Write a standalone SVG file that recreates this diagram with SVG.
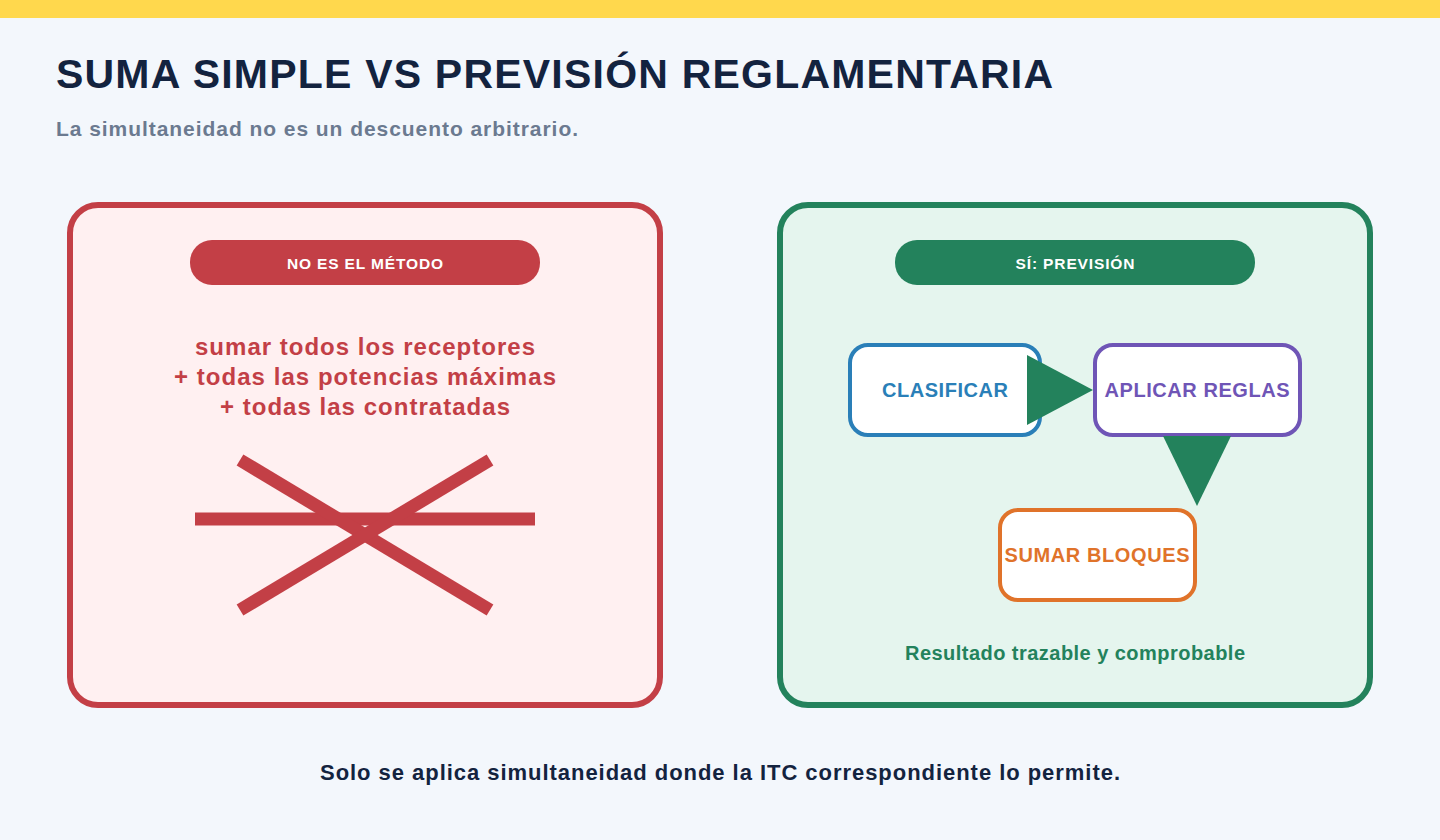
<svg xmlns="http://www.w3.org/2000/svg" width="1440" height="840" viewBox="0 0 1440 840">
<style>
text{font-family:"Liberation Sans",Arial,sans-serif;font-weight:bold}
.box{fill:#fff;stroke-width:4}
.lbl{font-size:20px;text-anchor:middle}
.x{stroke:#c33f46;stroke-width:13}
</style>
<rect width="1440" height="840" fill="#f3f7fc"/>
<rect width="1440" height="18" fill="#ffd84d"/>
<text x="56" y="88" font-size="41" fill="#13233f" textLength="997">SUMA SIMPLE VS PREVISIÓN REGLAMENTARIA</text>
<text x="56" y="136" font-size="21" fill="#6b7a90" textLength="522">La simultaneidad no es un descuento arbitrario.</text>
<g id="left">
<rect x="70" y="205" width="590" height="500" rx="28" fill="#fff0f1" stroke="#c33f46" stroke-width="6"/>
<rect x="190" y="240" width="350" height="45" rx="22" fill="#c33f46"/>
<text x="365" y="269" font-size="15.5" fill="#fff" text-anchor="middle" textLength="156">NO ES EL MÉTODO</text>
<text x="365" y="355" font-size="24" fill="#c33f46" text-anchor="middle" textLength="340">sumar todos los receptores</text>
<text x="365" y="385" font-size="24" fill="#c33f46" text-anchor="middle" textLength="382">+ todas las potencias máximas</text>
<text x="365" y="415" font-size="24" fill="#c33f46" text-anchor="middle" textLength="290">+ todas las contratadas</text>
<line class="x" x1="195" y1="519" x2="535" y2="519"/>
<line class="x" x1="240" y1="460" x2="490" y2="610"/>
<line class="x" x1="240" y1="610" x2="490" y2="460"/>
</g>
<g id="right">
<rect x="780" y="205" width="590" height="500" rx="28" fill="#e5f5ee" stroke="#23825c" stroke-width="6"/>
<rect x="895" y="240" width="360" height="45" rx="22" fill="#23825c"/>
<text x="1075" y="269" font-size="15.5" fill="#fff" text-anchor="middle" textLength="119">SÍ: PREVISIÓN</text>
<text x="1075" y="660" font-size="20" fill="#23825c" text-anchor="middle" textLength="340">Resultado trazable y comprobable</text>
</g>
<g id="clasificar"><rect class="box" x="850" y="345" width="190" height="90" rx="18" stroke="#2a7fb8"/><text class="lbl" x="945" y="397" fill="#2a7fb8" textLength="126">CLASIFICAR</text></g>
<g id="aplicar"><rect class="box" x="1095" y="345" width="205" height="90" rx="18" stroke="#6f55b6"/><text class="lbl" x="1197" y="397" fill="#6f55b6" textLength="185">APLICAR REGLAS</text></g>
<g id="sumar"><rect class="box" x="1000" y="510" width="195" height="90" rx="18" stroke="#e0732a"/><text class="lbl" x="1097" y="562" fill="#e0732a" textLength="185">SUMAR BLOQUES</text></g>
<g id="connectors" fill="#23825c">
<polygon points="1027,355 1027,425 1093,390"/>
<polygon points="1163,436 1231,436 1197,506"/>
</g>
<text x="720" y="780" font-size="22" fill="#13233f" text-anchor="middle" textLength="800">Solo se aplica simultaneidad donde la ITC correspondiente lo permite.</text>
</svg>
